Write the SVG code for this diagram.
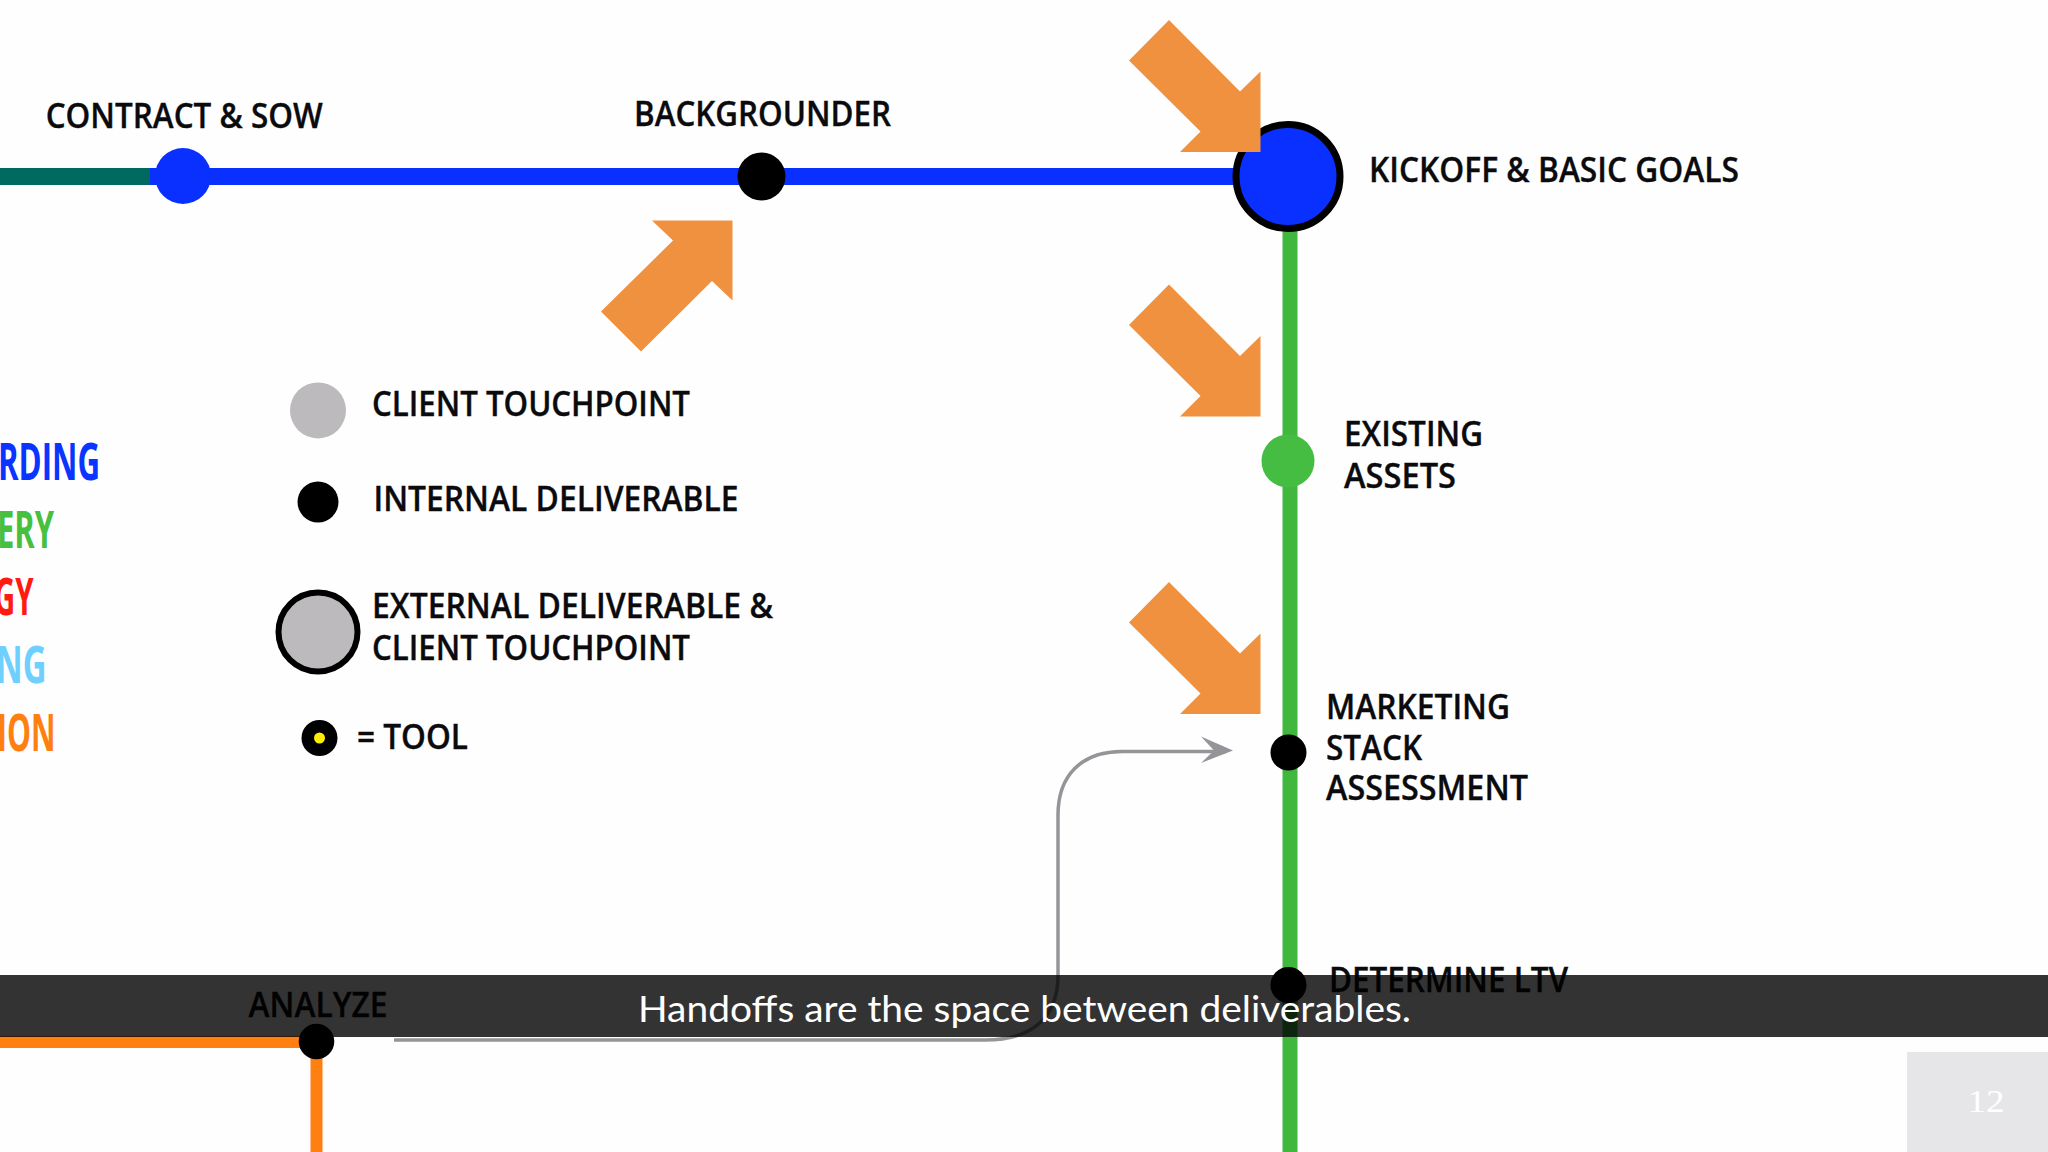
<svg xmlns="http://www.w3.org/2000/svg" width="2048" height="1152" viewBox="0 0 2048 1152">
<style>
.t{font-family:"Open Sans","Liberation Sans",sans-serif;font-weight:600;font-size:35px;fill:#0b0b0d;stroke:#0b0b0d;stroke-width:.35px}
.k{font-family:"Open Sans","Liberation Sans",sans-serif;font-weight:700;font-size:52px}
.hl{fill:#f0913f}
.cap{font-family:"Lato","Open Sans",sans-serif;font-size:36px;fill:#fff}
</style>
<defs><polygon id="arrowDown" class="hl" points="1169,20 1240,91.5 1260.5,71.5 1260.5,152 1180,152 1200.5,131.5 1129,60.5"/></defs>
<rect width="2048" height="1152" fill="#fefefe"/>
<g id="connectors" fill="none">
<path d="M0 176.5H155" stroke="#006a60" stroke-width="17"/>
<path d="M150 176.5H1240" stroke="#0a30ff" stroke-width="17"/>
<path d="M1290 220V1152" stroke="#40b83e" stroke-width="15"/>
<path d="M0 1042H316.5V1152" stroke="#ff7f11" stroke-width="12"/>
<path d="M394 1040H985C1035 1040 1058 1015 1058 975V815C1058 775 1082 751.5 1122 751.5H1226" stroke="#939598" stroke-width="3.5"/>
<polygon points="1201,736.5 1233,750.5 1201,763 1214,750.5" fill="#939598"/>
</g>
<g id="key-labels" class="k">
<text x="-2" y="479.5" textLength="102" lengthAdjust="spacingAndGlyphs" fill="#0a34ff">RDING</text>
<text x="-3" y="547.5" textLength="57" lengthAdjust="spacingAndGlyphs" fill="#47bf3f">ERY</text>
<text x="-6" y="614.5" textLength="39.5" lengthAdjust="spacingAndGlyphs" fill="#ff1a12">GY</text>
<text x="-4" y="683" textLength="50.5" lengthAdjust="spacingAndGlyphs" fill="#6fcfff">NG</text>
<text x="-3" y="750.5" textLength="58.5" lengthAdjust="spacingAndGlyphs" fill="#ff7f11">ION</text>
</g>
<g id="contract"><circle cx="183" cy="176" r="28" fill="#0a30ff"/><text class="t" x="45.7" y="127.7" textLength="277" lengthAdjust="spacingAndGlyphs">CONTRACT &amp; SOW</text></g>
<g id="backgrounder"><circle cx="761.5" cy="176.5" r="24" fill="#000"/><text class="t" x="634" y="126" textLength="257" lengthAdjust="spacingAndGlyphs">BACKGROUNDER</text></g>
<g id="kickoff"><circle cx="1288" cy="176.5" r="52" fill="#0a30ff" stroke="#000" stroke-width="7"/><text class="t" x="1369" y="182.3" textLength="370" lengthAdjust="spacingAndGlyphs">KICKOFF &amp; BASIC GOALS</text></g>
<g id="existing-assets"><circle cx="1288" cy="461" r="26.5" fill="#45bd42"/><text class="t" x="1344" y="446.2" textLength="139" lengthAdjust="spacingAndGlyphs">EXISTING</text><text class="t" x="1344" y="488" textLength="112" lengthAdjust="spacingAndGlyphs">ASSETS</text></g>
<g id="marketing-stack"><circle cx="1288.5" cy="752.5" r="18" fill="#000"/><text class="t" x="1326" y="718.6" textLength="184" lengthAdjust="spacingAndGlyphs">MARKETING</text><text class="t" x="1326" y="759.8" textLength="96" lengthAdjust="spacingAndGlyphs">STACK</text><text class="t" x="1326" y="799.8" textLength="202" lengthAdjust="spacingAndGlyphs">ASSESSMENT</text></g>
<g id="determine-ltv"><circle cx="1288.5" cy="985" r="18" fill="#000"/><text class="t" x="1329" y="992.2" textLength="239" lengthAdjust="spacingAndGlyphs">DETERMINE LTV</text></g>
<g id="analyze"><circle cx="316.5" cy="1041.5" r="17.8" fill="#000"/><text class="t" x="248.5" y="1017" textLength="139" lengthAdjust="spacingAndGlyphs">ANALYZE</text></g>
<g id="legend-client"><circle cx="318" cy="410.4" r="28" fill="#bcbabc"/><text class="t" x="372" y="416.2" textLength="318" lengthAdjust="spacingAndGlyphs">CLIENT TOUCHPOINT</text></g>
<g id="legend-internal"><circle cx="318" cy="502" r="20.5" fill="#000"/><text class="t" x="373.5" y="510.7" textLength="365" lengthAdjust="spacingAndGlyphs">INTERNAL DELIVERABLE</text></g>
<g id="legend-external"><circle cx="318" cy="632" r="39.5" fill="#bcbabc" stroke="#000" stroke-width="6"/><text class="t" x="372" y="618" textLength="401" lengthAdjust="spacingAndGlyphs">EXTERNAL DELIVERABLE &amp;</text><text class="t" x="372" y="659.5" textLength="318" lengthAdjust="spacingAndGlyphs">CLIENT TOUCHPOINT</text></g>
<g id="legend-tool"><circle cx="319.5" cy="738" r="18" fill="#000"/><circle cx="319.5" cy="738" r="5.5" fill="#ffee00"/><text class="t" x="357" y="748.8" textLength="111" lengthAdjust="spacingAndGlyphs">= TOOL</text></g>
<g id="highlights">
<polygon class="hl" points="652,220.5 732.5,220.5 732.5,300.5 712,281 641,351.5 601,311.5 673,240.5"/>
<use href="#arrowDown"/>
<use href="#arrowDown" y="264.5"/>
<use href="#arrowDown" y="562"/>
</g>
<g id="page-number"><rect x="1907" y="1052" width="141" height="100" fill="#e6e6e8"/><text x="1967.5" y="1111.5" textLength="37" lengthAdjust="spacingAndGlyphs" font-family="Liberation Serif,serif" font-size="31" fill="#fff">12</text></g>
<g id="caption"><rect x="0" y="975" width="2048" height="62" fill="#000" fill-opacity=".8"/><text class="cap" x="638" y="1022" textLength="773" lengthAdjust="spacingAndGlyphs">Handoffs are the space between deliverables.</text></g>
</svg>
